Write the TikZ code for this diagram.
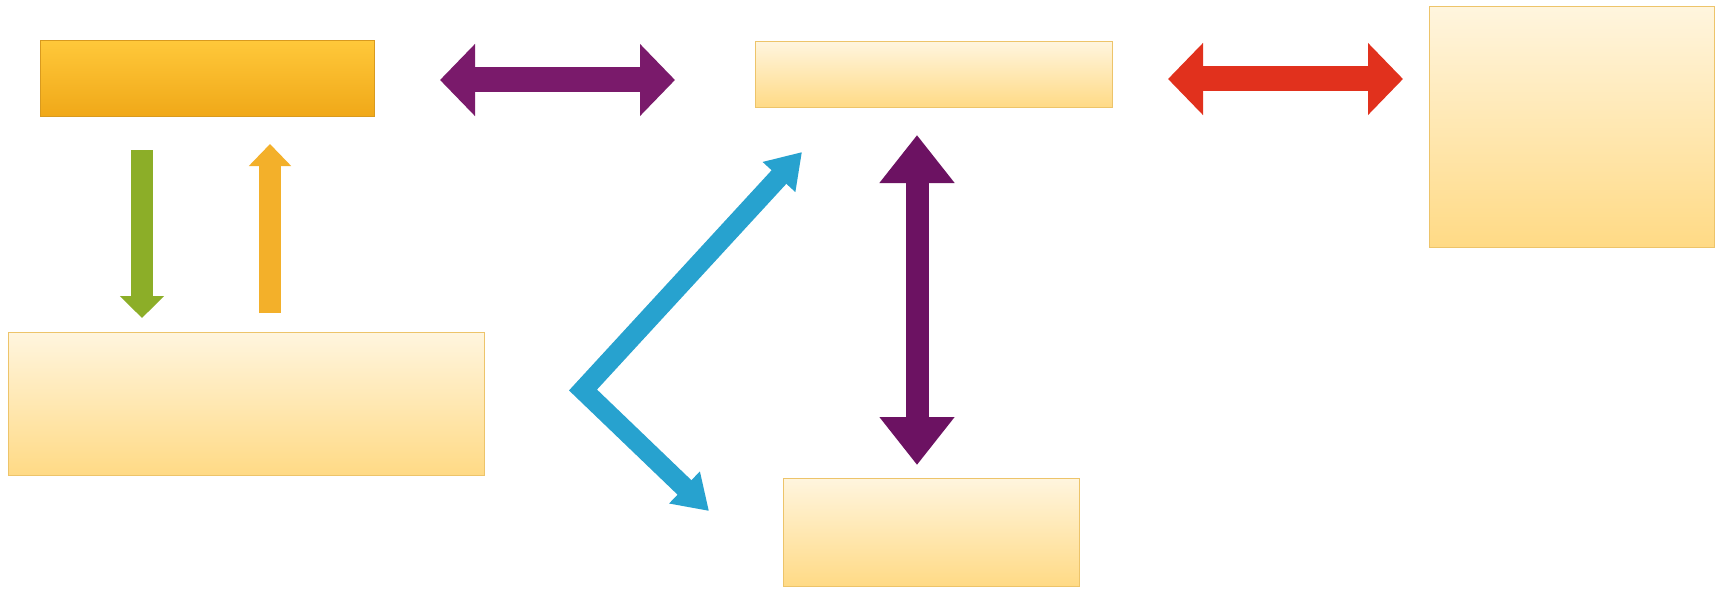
\documentclass[tikz,border=0pt]{standalone}
\usetikzlibrary{arrows.meta,calc}
\definecolor{boxtop}{HTML}{FFF5DE}
\definecolor{boxbot}{HTML}{FFDA85}
\definecolor{boxedge}{HTML}{EDC46A}
\definecolor{ortop}{HTML}{FFC83A}
\definecolor{orbot}{HTML}{F0A818}
\definecolor{oredge}{HTML}{D99A1E}
\definecolor{purp}{HTML}{7A1A6B}
\definecolor{vpurp}{HTML}{6C1262}
\definecolor{redar}{HTML}{E1311D}
\definecolor{greenar}{HTML}{8CAE28}
\definecolor{orar}{HTML}{F3B02A}
\definecolor{bluear}{HTML}{27A2CF}
\begin{document}
\begin{tikzpicture}[x=1pt,y=-1pt,
  box/.style={draw=boxedge, line width=1.2pt, top color=boxtop, bottom color=boxbot,
    inner sep=0pt, anchor=north west},
  orbox/.style={draw=oredge, line width=1.2pt, top color=ortop, bottom color=orbot,
    inner sep=0pt, anchor=north west},
  fatarrow/.style={draw=#1, line cap=butt, line join=miter},
]
\fill[white] (0,0) rectangle (1723,591);
\useasboundingbox (0,0) rectangle (1723,591);

% boxes
\node[orbox, minimum width=334pt, minimum height=76pt] (orange) at (40,40) {};
\node[box, minimum width=357pt, minimum height=66pt] (topbox) at (755,41) {};
\node[box, minimum width=285pt, minimum height=241pt] (rightbox) at (1429,6) {};
\node[box, minimum width=476pt, minimum height=143pt] (leftbox) at (8,332) {};
\node[box, minimum width=296pt, minimum height=108pt] (botbox) at (783,478) {};

% arrow end points
\coordinate (phl) at (440,80);
\coordinate (phr) at (675,80);
\coordinate (rl) at (1168,79);
\coordinate (rr) at (1403,79);
\coordinate (gtop) at (142,150);
\coordinate (gbot) at (142,318);
\coordinate (otop) at (270,144);
\coordinate (obot) at (270,313);
\coordinate (pvt) at (917,135);
\coordinate (pvb) at (917,465);
\coordinate (bt) at (802,152);
\coordinate (bv) at (583,390);
\coordinate (bb) at (709,511);

% connectors
\draw[fatarrow=purp, line width=25pt,
  {Triangle[length=35pt,width=70pt]}-{Triangle[length=35pt,width=70pt]}] (phl) -- (phr);
\draw[fatarrow=redar, line width=25pt,
  {Triangle[length=35pt,width=70pt]}-{Triangle[length=35pt,width=70pt]}] (rl) -- (rr);
\draw[fatarrow=greenar, line width=22pt,
  -{Triangle[length=22pt,width=43pt]}] (gtop) -- (gbot);
\draw[fatarrow=orar, line width=22pt,
  -{Triangle[length=22pt,width=41pt]}] (obot) -- (otop);
\draw[fatarrow=vpurp, line width=23pt,
  {Triangle[length=48pt,width=72pt]}-{Triangle[length=48pt,width=72pt]}] (pvt) -- (pvb);
\draw[fatarrow=bluear, line width=20pt,
  {Triangle[length=34pt,width=42pt]}-{Triangle[length=34pt,width=42pt]}] (bt) -- (bv) -- (bb);
\end{tikzpicture}
\end{document}
